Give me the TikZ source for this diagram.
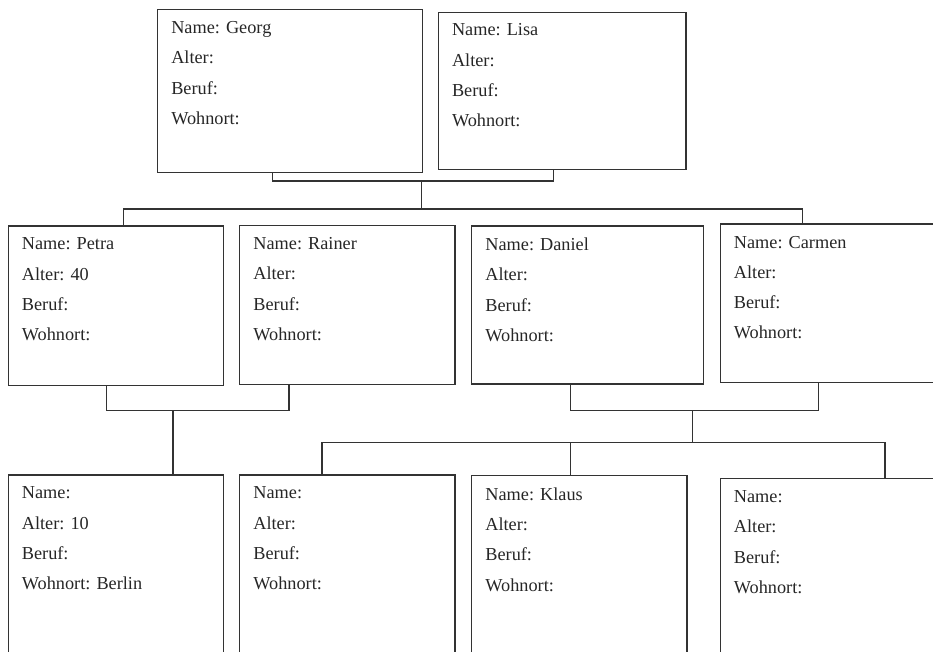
\documentclass[tikz,border=0pt]{standalone}
\usepackage{fontspec}
\setmainfont{Liberation Serif}
\usetikzlibrary{positioning}

\tikzset{
  box/.style={draw=black!80, line width=1pt, rectangle, anchor=north west,
    minimum width=161.5pt, minimum height=119pt, inner sep=0pt},
  fields/.style={anchor=north west, inner sep=0pt, align=left, text=black!85,
    font=\fontsize{13.7}{22.7}\selectfont},
  link/.style={draw=black!80, line width=1pt}
}

\begin{document}
\begin{tikzpicture}[x=0.75pt, y=-0.75pt]
  \useasboundingbox (0,0) rectangle (933,652);

  % Grandparents
  \node[box, minimum width=198.4pt, minimum height=122.2pt] (georg) at (157,9) {};
  \node[fields, below right=9.2pt and 10.5pt of georg.north west] (georgtext) {Name: Georg\\Alter:\\Beruf:\\Wohnort:};
  \node[box, minimum width=185.6pt, minimum height=117.4pt] (lisa) at (438,12) {};
  \node[fields, below right=8.6pt and 10.3pt of lisa.north west] (lisatext) {Name: Lisa\\Alter:\\Beruf:\\Wohnort:};

  % Parents
  \node[box, minimum height=119.6pt] (petra) at (7.5,225.5) {};
  \node[fields, below right=9.2pt and 10.6pt of petra.north west] (petratext) {Name: Petra\\Alter: 40\\Beruf:\\Wohnort:};
  \node[box, minimum height=118.9pt] (rainer) at (239,225) {};
  \node[fields, below right=9.2pt and 10.6pt of rainer.north west] (rainertext) {Name: Rainer\\Alter:\\Beruf:\\Wohnort:};
  \node[box, minimum width=174pt, minimum height=118.5pt] (daniel) at (471,225.5) {};
  \node[fields, below right=9.2pt and 10.6pt of daniel.north west] (danieltext) {Name: Daniel\\Alter:\\Beruf:\\Wohnort:};
  \node[box, minimum width=180pt, minimum height=118.9pt] (carmen) at (719.5,223.5) {};
  \node[fields, below right=9.2pt and 10.6pt of carmen.north west] (carmentext) {Name: Carmen\\Alter:\\Beruf:\\Wohnort:};

  % Children
  \node[box, minimum height=175pt] (berlin) at (7.5,474.5) {};
  \node[fields, below right=9.2pt and 10.6pt of berlin.north west] (berlintext) {Name:\\Alter: 10\\Beruf:\\Wohnort: Berlin};
  \node[box, minimum height=175pt] (kidtwo) at (239,474.5) {};
  \node[fields, below right=9.2pt and 10.6pt of kidtwo.north west] (kidtwotext) {Name:\\Alter:\\Beruf:\\Wohnort:};
  \node[box, minimum height=175pt] (klaus) at (471,475) {};
  \node[fields, below right=9.2pt and 10.6pt of klaus.north west] (klaustext) {Name: Klaus\\Alter:\\Beruf:\\Wohnort:};
  \node[box, minimum width=180pt, minimum height=175pt] (kidfour) at (719.5,478) {};
  \node[fields, below right=9.2pt and 10.6pt of kidfour.north west] (kidfourtext) {Name:\\Alter:\\Beruf:\\Wohnort:};

  % Georg + Lisa
  \coordinate (gl) at (421.7,181);
  \coordinate (topbar) at (421.7,209);
  \draw[link] ([xshift=86.5pt]georg.south west) |- (gl) -| ([xshift=86.8pt]lisa.south west);
  \draw[link] (gl) -- (topbar);
  \draw[link] ([xshift=86.9pt]petra.north west) |- (topbar) -| ([xshift=62.1pt]carmen.north west);

  % Petra + Rainer
  \coordinate (pr) at (173,410.7);
  \draw[link] ([xshift=74.4pt]petra.south west) |- (pr) -| ([xshift=37.5pt]rainer.south west);
  \draw[link] (pr) -- (pr |- berlin.north);

  % Daniel + Carmen
  \coordinate (dc) at (692.3,410.7);
  \coordinate (kidbar) at (692.3,442.5);
  \draw[link] ([xshift=74.5pt]daniel.south west) |- (dc) -| ([xshift=74.4pt]carmen.south west);
  \draw[link] (dc) -- (kidbar);
  \draw[link] ([xshift=62.25pt]kidtwo.north west) |- (kidbar) -| ([xshift=124pt]kidfour.north west);
  \draw[link] ([xshift=74.5pt]klaus.north west) |- (kidbar);
\end{tikzpicture}
\end{document}
